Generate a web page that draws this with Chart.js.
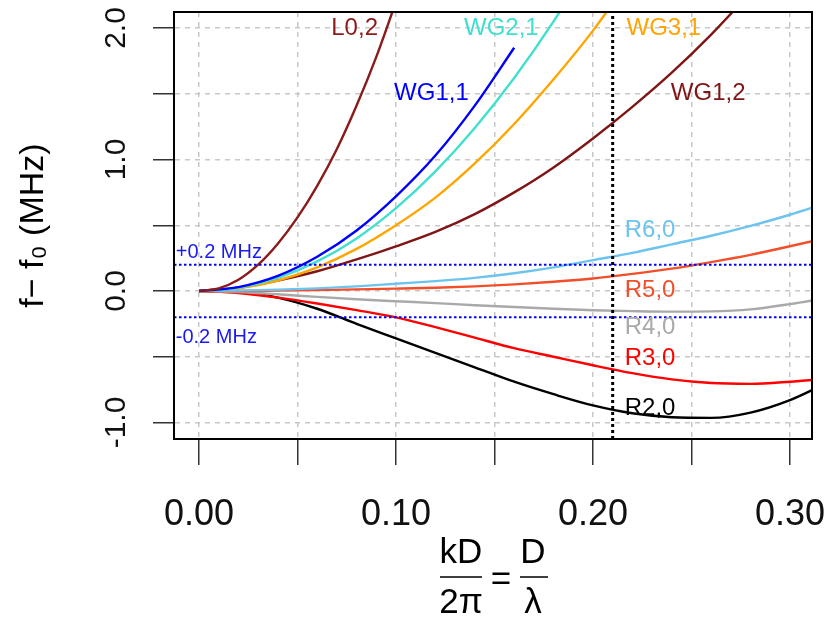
<!DOCTYPE html>
<html><head><meta charset="utf-8">
<script src="https://cdn.jsdelivr.net/npm/chart.js@4"></script>
<style>html,body{margin:0;padding:0;background:#fff;overflow:hidden}</style>
</head><body>
<canvas id="c" width="824" height="619"></canvas>
<script>
// ---------- data ----------
const xL02  = [0, 0.01, 0.02, 0.03, 0.04, 0.05, 0.06, 0.07, 0.08, 0.09, 0.10];
const yL02  = [0, 0.02, 0.085, 0.2, 0.36, 0.56, 0.8, 1.08, 1.41, 1.78, 2.2];

const xWG11 = [0, 0.02, 0.04, 0.06, 0.08, 0.10, 0.12, 0.14, 0.16];
const yWG11 = [0, 0.03, 0.115, 0.26, 0.46, 0.72, 1.03, 1.41, 1.85];

const xWG21 = [0, 0.02, 0.04, 0.06, 0.08, 0.10, 0.12, 0.14, 0.16, 0.18, 0.20];
const yWG21 = [0, 0.025, 0.10, 0.225, 0.40, 0.63, 0.91, 1.24, 1.62, 2.05, 2.53];

const xWG31 = [0, 0.02, 0.04, 0.06, 0.08, 0.10, 0.12, 0.14, 0.16, 0.18, 0.20, 0.22];
const yWG31 = [0, 0.02, 0.08, 0.18, 0.32, 0.50, 0.71, 0.97, 1.27, 1.61, 1.98, 2.4];

const xWG12 = [0, 0.02, 0.04, 0.06, 0.08, 0.10, 0.12, 0.14, 0.16, 0.18, 0.20, 0.22, 0.24, 0.26, 0.28];
const yWG12 = [0, 0.025, 0.08, 0.15, 0.24, 0.34, 0.45, 0.585, 0.75, 0.94, 1.16, 1.40, 1.66, 1.95, 2.27];

const xR   = [0, 0.02, 0.04, 0.06, 0.08, 0.10, 0.12, 0.14, 0.16, 0.18, 0.20, 0.22, 0.24, 0.26, 0.28, 0.30, 0.32];
const yR60 = [0, 0.003, 0.01, 0.02, 0.035, 0.055, 0.075, 0.10, 0.135, 0.18, 0.235, 0.29, 0.355, 0.42, 0.495, 0.58, 0.675];
const yR50 = [0, 0, 0.003, 0.007, 0.012, 0.018, 0.025, 0.035, 0.05, 0.07, 0.095, 0.13, 0.17, 0.22, 0.275, 0.34, 0.41];
const yR40 = [0, -0.008, -0.025, -0.045, -0.063, -0.078, -0.092, -0.108, -0.122, -0.135, -0.146, -0.153, -0.157, -0.155, -0.14, -0.10, -0.05];
const yR30 = [0, -0.015, -0.05, -0.095, -0.145, -0.2, -0.275, -0.355, -0.435, -0.50, -0.565, -0.625, -0.672, -0.70, -0.706, -0.69, -0.665];
const yR20 = [0, -0.01, -0.05, -0.135, -0.25, -0.36, -0.47, -0.58, -0.69, -0.785, -0.87, -0.93, -0.96, -0.965, -0.925, -0.83, -0.69];

const refLevels = [0.2, -0.2];          // MHz tolerance lines
const refLevelLabels = ['+0.2 MHz', '-0.2 MHz'];
const vLineX = 0.21;                    // vertical marker

const xTickLabels = [0, 0.1, 0.2, 0.3];
const yTickLabels = [-1, 0, 1, 2];

const seriesNames = ['L0,2', 'WG1,1', 'WG2,1', 'WG3,1', 'WG1,2', 'R6,0', 'R5,0', 'R4,0', 'R3,0', 'R2,0'];
// label anchor points (data coordinates)
const labelX = [0.079, 0.118, 0.1535, 0.236, 0.2585, 0.229, 0.229, 0.229, 0.229, 0.229];
const labelY = [2.0, 1.5, 2.0, 2.0, 1.5, 0.464, 0.008, -0.28, -0.51, -0.89];
const refLabelX = -0.0118;
const refLabelY = [0.29, -0.35];

// ---------- styles / layout ----------
const FONT = '"Liberation Sans", Arial, Helvetica, sans-serif';
const colors = {
  'L0,2': '#8B1A1A', 'WG1,1': '#0000FF', 'WG2,1': '#40E0D0', 'WG3,1': '#FFA500', 'WG1,2': '#7F1515',
  'R6,0': '#6CC4EE', 'R5,0': '#F24E2A', 'R4,0': '#A9A9A9', 'R3,0': '#FF0000', 'R2,0': '#000000'
};
const X_MIN = -0.0127, X_MAX = 0.3112, Y_MIN = -1.1255, Y_MAX = 2.1217;

function pts(xs, ys) { return xs.map((x, i) => ({x: x, y: ys[i]})); }
const seriesData = {
  'L0,2': pts(xL02, yL02), 'WG1,1': pts(xWG11, yWG11), 'WG2,1': pts(xWG21, yWG21),
  'WG3,1': pts(xWG31, yWG31), 'WG1,2': pts(xWG12, yWG12),
  'R6,0': pts(xR, yR60), 'R5,0': pts(xR, yR50), 'R4,0': pts(xR, yR40),
  'R3,0': pts(xR, yR30), 'R2,0': pts(xR, yR20)
};

const datasets = [];
refLevels.forEach(v => datasets.push({
  label: 'ref' + v, data: [{x: X_MIN, y: v}, {x: X_MAX, y: v}],
  borderColor: '#0000FF', borderWidth: 2, borderDash: [2.5, 2.5], pointRadius: 0, tension: 0
}));
datasets.push({
  label: 'vline', data: [{x: vLineX, y: Y_MIN}, {x: vLineX, y: Y_MAX}],
  borderColor: '#000', borderWidth: 3, borderDash: [3, 3], pointRadius: 0, tension: 0
});
seriesNames.forEach(n => datasets.push({
  label: n, data: seriesData[n], borderColor: colors[n], borderWidth: 2.4,
  pointRadius: 0, cubicInterpolationMode: 'monotone', tension: 0.4
}));

function isAmong(v, list) { return list.some(t => Math.abs(v - t) < 1e-6); }

const overlay = {
  id: 'overlay',
  afterDatasetsDraw(chart) {
    const {ctx, chartArea: a, scales: {x, y}} = chart;
    ctx.save();
    ctx.strokeStyle = '#000'; ctx.lineWidth = 2;
    ctx.strokeRect(a.left, a.top, a.right - a.left, a.bottom - a.top);
    ctx.font = '24px ' + FONT;
    ctx.textAlign = 'center'; ctx.textBaseline = 'middle';
    seriesNames.forEach((n, i) => {
      ctx.fillStyle = colors[n];
      ctx.fillText(n, x.getPixelForValue(labelX[i]), y.getPixelForValue(labelY[i]));
    });
    ctx.font = '20px ' + FONT;
    ctx.textAlign = 'left';
    ctx.fillStyle = '#1A1AF0';
    refLevelLabels.forEach((t, i) => {
      ctx.fillText(t, x.getPixelForValue(refLabelX), y.getPixelForValue(refLabelY[i]));
    });
    ctx.restore();
  },
  afterDraw(chart) {
    const {ctx, chartArea: a} = chart;
    const cx = (a.left + a.right) / 2;
    ctx.save();
    ctx.fillStyle = '#000'; ctx.strokeStyle = '#000'; ctx.lineWidth = 1.6;
    ctx.font = '35px ' + FONT;
    ctx.textAlign = 'center'; ctx.textBaseline = 'middle';
    const yNum = 553, yBar = 577, yDen = 603;
    ctx.fillText('kD', cx - 32, yNum);
    ctx.fillText('2\u03C0', cx - 32, yDen);
    ctx.fillText('=', cx + 8, yBar + 3);
    ctx.fillText('D', cx + 40, yNum);
    ctx.fillText('\u03BB', cx + 40, yDen);
    ctx.beginPath();
    ctx.moveTo(cx - 53, yBar); ctx.lineTo(cx - 11, yBar);
    ctx.moveTo(cx + 27, yBar); ctx.lineTo(cx + 55, yBar);
    ctx.stroke();
    ctx.restore();
  }
};

new Chart(document.getElementById('c'), {
  type: 'line',
  data: {datasets: datasets},
  plugins: [overlay],
  options: {
    responsive: false, animation: false, devicePixelRatio: 1,
    layout: {padding: {left: 0, top: 12, right: 12, bottom: 0}},
    plugins: {legend: {display: false}, tooltip: {enabled: false}},
    scales: {
      x: {
        type: 'linear', min: X_MIN, max: X_MAX,
        afterFit(s) { s.height = 180; s.paddingLeft = 0; s.paddingRight = 0; s.paddingTop = 0; s.paddingBottom = 0; },
        border: {display: true, color: '#000', width: 2, dash: [5, 5]},
        grid: {color: '#c8c8c8', lineWidth: 1.5, tickLength: 26, tickColor: '#333', tickWidth: 1.5, tickBorderDash: []},
        ticks: {
          stepSize: 0.05, includeBounds: false, autoSkip: false, maxRotation: 0, minRotation: 0,
          padding: 28, color: '#111', font: {family: FONT, size: 36},
          callback: v => isAmong(v, xTickLabels) ? v.toFixed(2) : ''
        }
      },
      y: {
        type: 'linear', min: Y_MIN, max: Y_MAX,
        afterFit(s) { s.width = 174; s.paddingLeft = 0; s.paddingRight = 0; s.paddingTop = 0; s.paddingBottom = 0; },
        border: {display: true, color: '#000', width: 2, dash: [5, 5]},
        grid: {color: '#c8c8c8', lineWidth: 1.5, tickLength: 21, tickColor: '#333', tickWidth: 1.5, tickBorderDash: []},
        ticks: {
          stepSize: 0.5, includeBounds: false, autoSkip: false, minRotation: 90, maxRotation: 90,
          crossAlign: 'center', padding: 10, color: '#111', font: {family: FONT, size: 30},
          callback: v => isAmong(v, yTickLabels) ? v.toFixed(1) : ''
        },
        title: {display: true, text: 'f\u2212 f\u2080 (MHz)', color: '#000', font: {family: FONT, size: 34}, padding: 13}
      }
    }
  }
});
</script>
</body></html>
